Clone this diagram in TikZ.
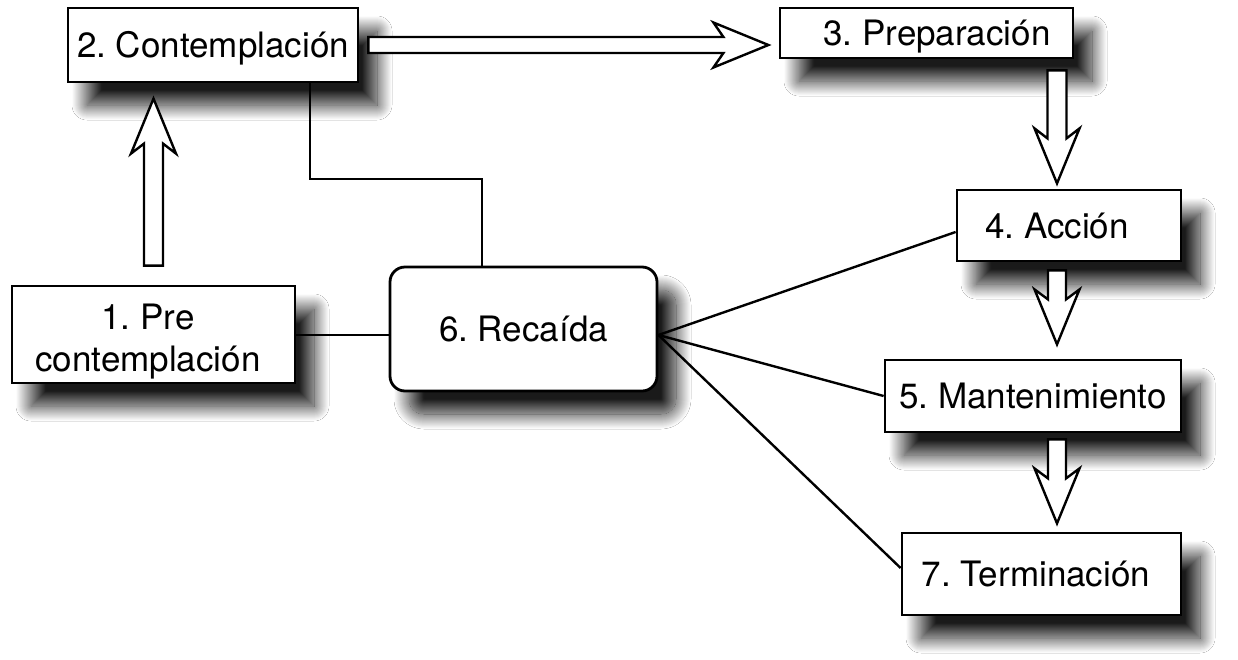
\documentclass[tikz,border=0pt]{standalone}
\usepackage{fontspec}
\setmainfont{TeX Gyre Heros}
\usetikzlibrary{shadows.blur}
\begin{document}
\frenchspacing
\begin{tikzpicture}[x=1pt,y=-1pt,
  lbl/.style={font=\fontsize{35}{42}\selectfont},
  box/.style={draw=black, line width=2.8pt, fill=white, inner sep=0pt,
    lbl, text height=25pt, text depth=0pt,
    blur shadow={shadow xshift=19pt, shadow yshift=-23pt, shadow blur radius=15pt,
                 shadow blur steps=30, shadow opacity=90}},
  conn/.style={line width=2.4pt},
  arrowbody/.style={draw=black, fill=white, line width=2.4pt, line join=miter},
  pics/barrow/.style n args={2}{code={%
    \path[arrowbody] (0,-#2) -- (#1-45,-#2) -- (#1-55,-22.5) -- (#1,0)
      -- (#1-55,22.5) -- (#1-45,#2) -- (0,#2) -- cycle;}}
]
\fill[white] (0,0) rectangle (1238,659);
\useasboundingbox (0,0) rectangle (1238,659);

% boxes
\node[box, minimum width=290pt, minimum height=74pt] (n2) at (213,45) {2. Contemplación};
\node[box, minimum width=293pt, minimum height=50pt] (n3) at (926.5,33) {\hspace*{21pt}3. Preparación};
\node[box, minimum width=224pt, minimum height=71pt] (n4) at (1069,225.5) {4. Acción\hspace*{24pt}};
\node[box, minimum width=296pt, minimum height=72pt] (n5) at (1033,396) {5. Mantenimiento};
\node[box, minimum width=279pt, minimum height=82pt] (n7) at (1041.5,574) {7. Terminación\hspace*{11pt}};
\node[box, minimum width=283pt, minimum height=97pt,
      label={[lbl, align=center, xshift=-5.5pt, yshift=-7.5pt]center:1. Pre\\contemplación}] (n1) at (153.5,334.5) {};
\node[box, rounded corners=15pt, minimum width=267pt, minimum height=124pt] (n6) at (523.5,329) {6. Recaída};

% plain connectors
\coordinate (k1) at (310,179);
\coordinate (k2) at (482,179);
\draw[conn] (n2.south -| k1) -- (k1) -- (k2) -- (k2 |- n6.north);
\draw[conn] ([yshift=-0.5pt]n1.east) -- ([yshift=-0.5pt]n1.east -| n6.west);
\coordinate (f) at ([yshift=-6pt]n6.east);
\draw[conn] (f) -- ([yshift=-6.5pt]n4.west);
\draw[conn] (f) -- (n5.west);
\draw[conn] (f) -- ([yshift=6pt]n7.west);

% block arrows
\coordinate (ax) at (1057,0);
\pic[rotate=90] at ([yshift=19pt]n1.north) {barrow={167}{9.5}};
\pic at ([xshift=9pt]n2.east) {barrow={400}{8}};
\path (ax |- n3.south) ++(0,11) coordinate (a3);
\pic[rotate=-90] at (a3) {barrow={113}{9.5}};
\path (ax |- n4.south) ++(0,8) coordinate (a4);
\pic[rotate=-90] at (a4) {barrow={74}{9}};
\path (ax |- n5.south) ++(0,6) coordinate (a5);
\pic[rotate=-90] at (a5) {barrow={84}{9}};
\end{tikzpicture}
\end{document}
